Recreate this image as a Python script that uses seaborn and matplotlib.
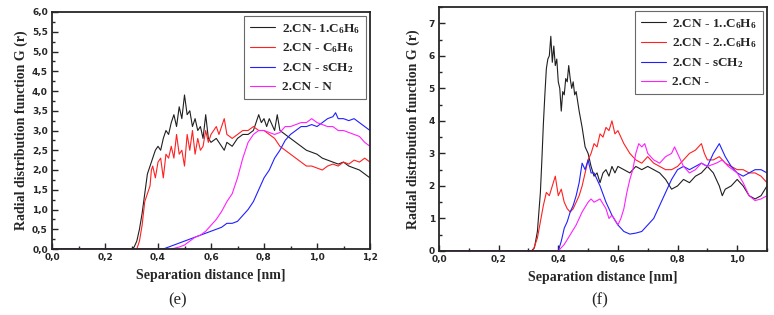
import numpy as np
import pandas as pd
import matplotlib
matplotlib.use("Agg")
import matplotlib.pyplot as plt
from matplotlib.ticker import MultipleLocator, FuncFormatter
import seaborn as sns

# ---- panel (e) : values ----
e_black_x = [0.0, 0.30, 0.31, 0.32, 0.33, 0.34, 0.35, 0.36, 0.37, 0.38,
             0.39, 0.40, 0.41, 0.42, 0.43, 0.44, 0.45, 0.46, 0.47, 0.48,
             0.49, 0.50, 0.51, 0.52, 0.53, 0.54, 0.55, 0.56, 0.57, 0.58,
             0.59, 0.60, 0.62, 0.64, 0.65, 0.66, 0.68, 0.70, 0.72, 0.74,
             0.76, 0.77, 0.78, 0.79, 0.80, 0.81, 0.82, 0.84, 0.85, 0.86,
             0.88, 0.90, 0.92, 0.94, 0.96, 0.98, 1.00, 1.02, 1.04, 1.06,
             1.08, 1.10, 1.12, 1.14, 1.16, 1.18, 1.20]
e_black_y = [0.0, 0.0, 0.05, 0.2, 0.5, 0.9, 1.4, 1.9, 2.1, 2.3,
             2.5, 2.6, 2.5, 2.8, 3.0, 2.9, 3.2, 3.4, 3.1, 3.6,
             3.3, 3.9, 3.4, 3.5, 3.1, 3.3, 3.0, 3.1, 2.8, 3.4,
             2.8, 2.7, 2.8, 2.6, 2.5, 2.7, 2.6, 2.8, 2.9, 2.9,
             3.0, 3.2, 3.4, 3.2, 3.3, 3.1, 3.3, 3.0, 3.4, 3.0,
             2.9, 2.8, 2.7, 2.6, 2.5, 2.45, 2.4, 2.3, 2.25, 2.2,
             2.15, 2.2, 2.1, 2.05, 2.0, 1.9, 1.8]

e_red_x = [0.0, 0.32, 0.33, 0.34, 0.35, 0.36, 0.37, 0.375, 0.38, 0.39,
           0.40, 0.41, 0.42, 0.43, 0.44, 0.45, 0.46, 0.47, 0.48, 0.49,
           0.50, 0.51, 0.52, 0.53, 0.54, 0.55, 0.56, 0.57, 0.58, 0.59,
           0.60, 0.62, 0.63, 0.65, 0.66, 0.68, 0.70, 0.72, 0.74, 0.76,
           0.78, 0.80, 0.82, 0.84, 0.86, 0.88, 0.90, 0.92, 0.94, 0.96,
           0.98, 1.00, 1.02, 1.04, 1.06, 1.08, 1.10, 1.12, 1.14, 1.16,
           1.18, 1.20]
e_red_y = [0.0, 0.0, 0.2, 0.6, 1.2, 1.4, 1.6, 2.0, 2.1, 1.8,
           2.2, 2.3, 1.8, 2.4, 2.3, 2.6, 2.3, 2.9, 2.4, 2.5,
           2.1, 2.9, 2.5, 3.0, 2.4, 2.8, 2.5, 2.6, 3.0, 2.7,
           2.9, 3.1, 2.9, 3.3, 2.9, 2.8, 2.9, 3.0, 3.0, 3.1,
           3.0, 3.0, 2.9, 2.8, 2.6, 2.5, 2.4, 2.3, 2.2, 2.1,
           2.1, 2.05, 2.0, 2.1, 2.15, 2.1, 2.2, 2.15, 2.25, 2.2,
           2.3, 2.2]

e_blue_x = [0.0, 0.42, 0.44, 0.46, 0.48, 0.50, 0.52, 0.54, 0.56, 0.58,
            0.60, 0.62, 0.64, 0.66, 0.68, 0.70, 0.72, 0.74, 0.76, 0.78,
            0.80, 0.82, 0.84, 0.86, 0.88, 0.90, 0.92, 0.94, 0.96, 0.98,
            1.00, 1.02, 1.04, 1.06, 1.07, 1.08, 1.10, 1.12, 1.14, 1.16,
            1.18, 1.20]
e_blue_y = [0.0, 0.0, 0.05, 0.1, 0.15, 0.2, 0.25, 0.3, 0.35, 0.4,
            0.45, 0.5, 0.55, 0.65, 0.65, 0.7, 0.85, 1.0, 1.2, 1.5,
            1.8, 2.0, 2.3, 2.5, 2.75, 2.9, 3.0, 3.1, 3.1, 3.15,
            3.1, 3.2, 3.3, 3.35, 3.45, 3.3, 3.3, 3.25, 3.3, 3.2,
            3.1, 3.0]

e_mag_x = [0.0, 0.45, 0.48, 0.50, 0.52, 0.54, 0.56, 0.58, 0.60, 0.62,
           0.64, 0.66, 0.68, 0.70, 0.72, 0.74, 0.76, 0.78, 0.80, 0.82,
           0.84, 0.86, 0.88, 0.90, 0.92, 0.94, 0.96, 0.98, 1.00, 1.02,
           1.04, 1.06, 1.08, 1.10, 1.12, 1.14, 1.16, 1.18, 1.20]
e_mag_y = [0.0, 0.0, 0.05, 0.1, 0.2, 0.3, 0.35, 0.45, 0.6, 0.75,
           0.95, 1.2, 1.4, 1.8, 2.3, 2.7, 2.9, 3.0, 3.0, 2.95,
           2.9, 2.95, 3.1, 3.1, 3.15, 3.2, 3.2, 3.3, 3.2, 3.15,
           3.1, 3.1, 3.0, 3.0, 2.95, 2.9, 2.85, 2.7, 2.6]

# ---- panel (f) ----
f_black_x = [0.0, 0.31, 0.32, 0.33, 0.34, 0.345, 0.35, 0.355, 0.36, 0.365,
             0.37, 0.375, 0.38, 0.385, 0.39, 0.395, 0.40, 0.405, 0.41, 0.415,
             0.42, 0.425, 0.43, 0.435, 0.44, 0.445, 0.45, 0.455, 0.46, 0.47,
             0.48, 0.49, 0.50, 0.51, 0.52, 0.53, 0.54, 0.55, 0.56, 0.57,
             0.58, 0.59, 0.60, 0.62, 0.64, 0.66, 0.68, 0.70, 0.72, 0.74,
             0.76, 0.78, 0.80, 0.82, 0.84, 0.86, 0.88, 0.90, 0.92, 0.94,
             0.95, 0.96, 0.98, 1.00, 1.02, 1.04, 1.06, 1.08, 1.10]
f_black_y = [0.0, 0.0, 0.1, 0.6, 1.8, 2.8, 3.9, 4.8, 5.6, 5.9,
             6.0, 6.6, 5.8, 6.3, 5.7, 5.9, 5.2, 5.0, 4.3, 4.9,
             4.8, 5.3, 5.2, 5.7, 5.3, 5.0, 5.2, 4.8, 4.9, 4.3,
             3.8, 3.2, 3.0, 2.6, 2.3, 2.4, 2.1, 2.4, 2.5, 2.3,
             2.6, 2.4, 2.6, 2.5, 2.4, 2.6, 2.5, 2.6, 2.5, 2.4,
             2.2, 1.9, 2.0, 2.2, 2.1, 2.3, 2.4, 2.6, 2.4, 2.0,
             1.7, 1.9, 2.0, 2.2, 2.0, 1.7, 1.6, 1.7, 2.0]

f_red_x = [0.0, 0.315, 0.33, 0.34, 0.35, 0.36, 0.37, 0.38, 0.39, 0.40,
           0.41, 0.42, 0.43, 0.44, 0.45, 0.46, 0.47, 0.48, 0.49, 0.50,
           0.51, 0.52, 0.53, 0.54, 0.55, 0.56, 0.57, 0.58, 0.59, 0.60,
           0.61, 0.62, 0.64, 0.66, 0.68, 0.70, 0.72, 0.74, 0.76, 0.78,
           0.80, 0.82, 0.84, 0.86, 0.88, 0.89, 0.90, 0.92, 0.94, 0.96,
           0.98, 1.00, 1.02, 1.04, 1.06, 1.08, 1.10]
f_red_y = [0.0, 0.0, 0.4, 0.9, 1.4, 1.8, 1.7, 2.0, 2.3, 1.7,
           1.9, 1.5, 1.3, 1.2, 1.3, 1.5, 1.7, 2.0, 2.4, 2.8,
           3.0, 3.3, 3.2, 3.6, 3.5, 3.8, 3.7, 4.0, 3.6, 3.7,
           3.5, 3.3, 3.0, 2.8, 2.7, 2.9, 2.7, 2.6, 2.5, 2.5,
           2.6, 2.8, 3.0, 3.1, 3.3, 3.0, 2.8, 2.8, 2.9, 2.7,
           2.6, 2.5, 2.5, 2.4, 2.4, 2.3, 2.1]

f_blue_x = [0.0, 0.40, 0.41, 0.42, 0.43, 0.44, 0.45, 0.46, 0.47, 0.48,
            0.49, 0.50, 0.51, 0.52, 0.54, 0.56, 0.58, 0.60, 0.62, 0.64,
            0.66, 0.68, 0.70, 0.72, 0.74, 0.76, 0.78, 0.80, 0.82, 0.84,
            0.86, 0.88, 0.90, 0.92, 0.94, 0.96, 0.98, 1.00, 1.02, 1.04,
            1.06, 1.08, 1.10]
f_blue_y = [0.0, 0.0, 0.3, 0.7, 0.9, 1.2, 1.4, 1.7, 2.1, 2.7,
            2.5, 2.8, 2.4, 2.4, 2.0, 1.5, 1.1, 0.8, 0.6, 0.52,
            0.55, 0.6, 0.8, 1.0, 1.4, 1.8, 2.2, 2.5, 2.6, 2.5,
            2.6, 2.7, 2.6, 3.0, 3.3, 2.9, 2.6, 2.4, 2.3, 2.4,
            2.5, 2.5, 2.4]

f_mag_x = [0.0, 0.40, 0.42, 0.44, 0.46, 0.48, 0.50, 0.51, 0.52, 0.54,
           0.56, 0.57, 0.58, 0.60, 0.61, 0.62, 0.63, 0.64, 0.65, 0.66,
           0.67, 0.68, 0.69, 0.70, 0.72, 0.74, 0.76, 0.78, 0.79, 0.80,
           0.82, 0.84, 0.86, 0.88, 0.90, 0.93, 0.95, 0.97, 1.00, 1.02,
           1.04, 1.06, 1.08, 1.10]
f_mag_y = [0.0, 0.0, 0.2, 0.5, 0.8, 1.2, 1.5, 1.6, 1.5, 1.6,
           1.3, 1.0, 1.1, 0.8, 1.0, 1.3, 1.8, 2.2, 2.5, 3.0,
           3.3, 3.2, 3.3, 3.0, 2.8, 2.7, 2.9, 3.0, 3.2, 3.0,
           2.6, 2.4, 2.5, 2.7, 2.6, 2.7, 2.8, 2.6, 2.4, 2.1,
           1.7, 1.55, 1.6, 1.7]

e_labels = ["2.CN- 1.C$_6$H$_6$", "2.CN - C$_6$H$_6$",
            "2.CN - sCH$_2$", "2.CN - N"]
f_labels = ["2.CN - 1..C$_6$H$_6$", "2.CN - 2..C$_6$H$_6$",
            "2.CN - sCH$_2$", "2.CN - "]
line_colors = ["#202020", "#ff2020", "#2020ff", "#ff20ff"]


def to_frame(series, labels):
    frames = []
    for (xs, ys), lab in zip(series, labels):
        frames.append(pd.DataFrame({"x": xs, "y": ys, "series": lab}))
    return pd.concat(frames, ignore_index=True)


df_e = to_frame([(e_black_x, e_black_y), (e_red_x, e_red_y),
                 (e_blue_x, e_blue_y), (e_mag_x, e_mag_y)], e_labels)
df_f = to_frame([(f_black_x, f_black_y), (f_red_x, f_red_y),
                 (f_blue_x, f_blue_y), (f_mag_x, f_mag_y)], f_labels)

sns.set_style("ticks")
plt.rcParams["font.family"] = ["Liberation Serif", "DejaVu Serif"]
plt.rcParams["mathtext.fontset"] = "custom"
plt.rcParams["mathtext.rm"] = "Liberation Serif:bold"
plt.rcParams["mathtext.it"] = "Liberation Serif:bold"
plt.rcParams["mathtext.bf"] = "Liberation Serif:bold"
plt.rcParams["mathtext.default"] = "rm"

comma = FuncFormatter(lambda v, p: f"{v:.1f}".replace(".", ","))
intfmt = FuncFormatter(lambda v, p: f"{v:.0f}")

fig = plt.figure(figsize=(7.74, 3.15), dpi=100)
ax_e = fig.add_axes([52 / 774, 1 - 249 / 315, 318 / 774, 237 / 315])
ax_f = fig.add_axes([439 / 774, 1 - 251 / 315, 328 / 774, 244 / 315])

for ax, df, labels in [(ax_e, df_e, e_labels), (ax_f, df_f, f_labels)]:
    sns.lineplot(data=df, x="x", y="y", hue="series", hue_order=labels,
                 palette=line_colors, sort=False, estimator=None,
                 linewidth=0.8, ax=ax)
    ax.set_xlabel("Separation distance [nm]", fontsize=10, fontweight="bold")
    ax.set_ylabel("Radial distribution function G (r)", fontsize=10,
                  fontweight="bold")
    ax.xaxis.set_major_locator(MultipleLocator(0.2))
    ax.xaxis.set_minor_locator(MultipleLocator(0.1))
    ax.xaxis.set_major_formatter(comma)
    ax.tick_params(which="both", direction="in", width=1.0,
                   labelsize=6.5, pad=3)
    ax.tick_params(which="major", length=4)
    ax.tick_params(which="minor", length=2.5)
    for sp in ax.spines.values():
        sp.set_linewidth(1.3)
        sp.set_visible(True)
    leg = ax.legend(loc="upper right", frameon=True, fancybox=False,
                    fontsize=9.5, handlelength=1.9, handletextpad=0.5,
                    labelspacing=0.45, borderpad=0.45, borderaxespad=0.3)
    leg.get_frame().set_edgecolor("#444444")
    leg.get_frame().set_linewidth(0.8)
    for t in leg.get_texts():
        t.set_fontweight("bold")
    for h in leg.get_lines():
        h.set_linewidth(0.8)

ax_e.set_xlim(0, 1.2)
ax_e.set_ylim(0, 6.0)
ax_e.yaxis.set_major_locator(MultipleLocator(0.5))
ax_e.yaxis.set_minor_locator(MultipleLocator(0.25))
ax_e.yaxis.set_major_formatter(comma)

ax_f.set_xlim(0, 1.1)
ax_f.set_ylim(0, 7.5)
ax_f.yaxis.set_major_locator(MultipleLocator(1))
ax_f.yaxis.set_minor_locator(MultipleLocator(0.5))
ax_f.yaxis.set_major_formatter(intfmt)

ax_e.yaxis.labelpad = 3
ax_f.yaxis.labelpad = 6
ax_e.xaxis.labelpad = 5
ax_f.xaxis.labelpad = 5

for ax in (ax_e, ax_f):
    for lab in ax.get_xticklabels() + ax.get_yticklabels():
        lab.set_family("DejaVu Sans")
        lab.set_fontweight("bold")

fig.text(178 / 774, 1 - 300 / 315, "(e)", ha="center", va="center",
         fontsize=12)
fig.text(600 / 774, 1 - 300 / 315, "(f)", ha="center", va="center",
         fontsize=12)

fig.savefig("out.png", dpi=100, facecolor="white")
